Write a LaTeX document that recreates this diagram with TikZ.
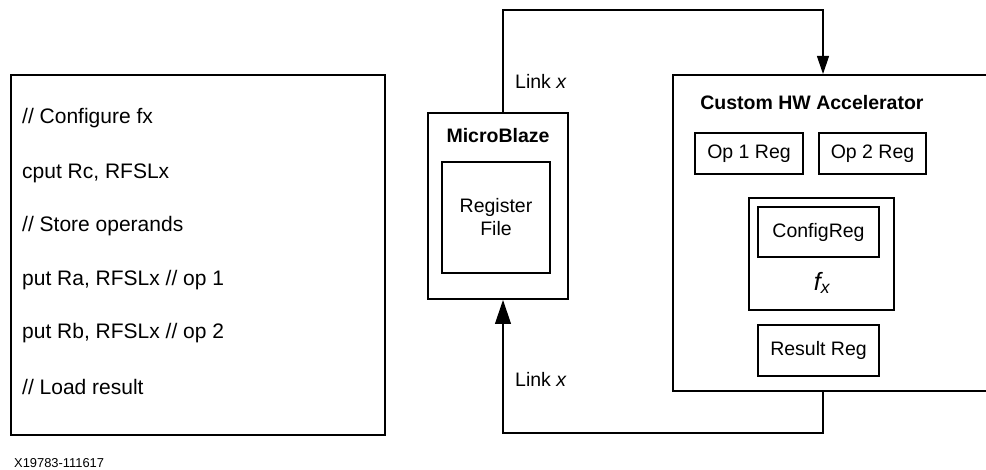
\documentclass[tikz,border=0pt]{standalone}
\usepackage{fontspec}
\setmainfont{Liberation Sans}
\usetikzlibrary{arrows.meta,calc}

\tikzset{
  bigbox/.style={draw,line width=2pt,inner sep=0pt},
  regbox/.style={draw,line width=1.6pt,inner sep=0pt,font=\fontsize{19.5}{23}\selectfont,align=center},
  codeline/.style={anchor=west,inner sep=0pt,font=\fontsize{21}{25}\selectfont},
  title/.style={inner sep=0pt,font=\fontsize{19.5}{23}\selectfont\bfseries},
  linklabel/.style={anchor=west,inner sep=0pt,font=\fontsize{19.5}{23}\selectfont},
  link/.style={line width=1.2pt}
}

\begin{document}
\begin{tikzpicture}[x=1pt,y=-1pt,color=black]
\useasboundingbox (0,0) rectangle (986,470);

% code listing
\node[bigbox,minimum width=374pt,minimum height=360pt] (code) at (198,255) {};
\node[codeline] (l1) at (22,118) {// Configure fx};
\node[codeline] (l2) at (22,173) {cput Rc, RFSLx};
\node[codeline] (l3) at (22,226) {// Store operands};
\node[codeline] (l4) at (22,280) {put Ra, RFSLx // op 1};
\node[codeline] (l5) at (22,333) {put Rb, RFSLx // op 2};
\node[codeline] (l6) at (22,387) {// Load result};

% processor
\node[bigbox,minimum width=140pt,minimum height=186pt] (mb) at (498,206) {};
\node[title] (mbtitle) at (498,136) {MicroBlaze};
\node[regbox,minimum width=108pt,minimum height=111pt] (regfile) at (496,217.5) {Register\\File};

% accelerator
\node[bigbox,minimum width=317pt,minimum height=316pt] (acc) at (831.5,233) {};
\node[title] (acctitle) at (812,103) {Custom HW Accelerator};
\node[regbox,minimum width=108pt,minimum height=41pt] (op1) at (749,153.5) {Op 1 Reg};
\node[regbox,minimum width=107pt,minimum height=41pt] (op2) at (872.5,153.5) {Op 2 Reg};
\node[regbox,minimum width=145pt,minimum height=112pt] (fx) at (821.5,254) {};
\node[regbox,minimum width=121pt,minimum height=50pt] (cfg) at (818.5,232) {ConfigReg};
\node[inner sep=0pt,font=\fontsize{25}{28}\selectfont\itshape] (fxname) at (822,283) {f\textsubscript{x}};
\node[regbox,minimum width=121pt,minimum height=51pt] (res) at (818.5,350.5) {Result Reg};

% links
\coordinate (tl) at (503,10);
\coordinate (tr) at (823,10);
\coordinate (br) at (823,433);
\draw[link,-{Triangle[length=18pt,width=12pt]}] (mb.north -| tl) |- (tr) -- (acc.north -| tr);
\draw[link,-{Triangle[length=24pt,width=16pt]}] (acc.south -| br) -- (br) -| (mb.south -| tl);
\node[linklabel] (linkup) at (515,81) {Link \textit{x}};
\node[linklabel] (linkdown) at (515,379) {Link \textit{x}};

\node[anchor=west,inner sep=0pt,font=\fontsize{12.9}{15}\selectfont] (figid) at (14,463) {X19783-111617};
\end{tikzpicture}
\end{document}
